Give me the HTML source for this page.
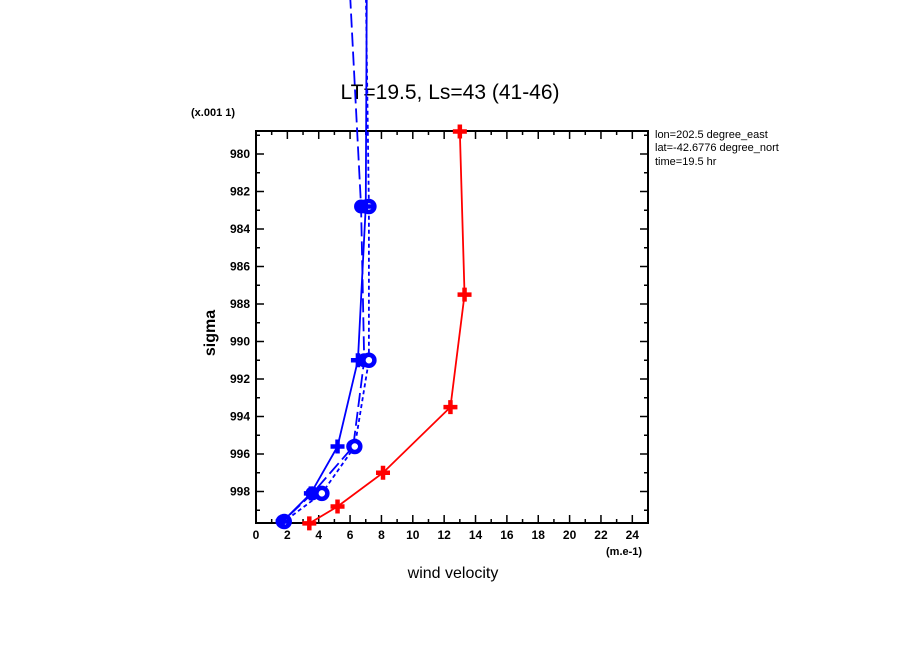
<!DOCTYPE html>
<html><head><meta charset="utf-8"><style>
body{margin:0;background:#fff}
svg{display:block;font-family:"Liberation Sans",sans-serif}
</style></head><body>
<svg id="chart" width="904" height="654" viewBox="0 0 904 654" xmlns="http://www.w3.org/2000/svg">
<defs><clipPath id="infoclip"><rect x="650" y="120" width="129" height="60"/></clipPath></defs>
<rect width="904" height="654" fill="#fff"/>
<text x="450" y="99" font-size="21" text-anchor="middle">LT=19.5, Ls=43 (41-46)</text>
<text x="191" y="116" font-size="11" font-weight="bold">(x.001 1)</text>
<text x="606" y="555" font-size="11" font-weight="bold">(m.e-1)</text>
<text x="453" y="578" font-size="16" text-anchor="middle">wind velocity</text>
<text transform="translate(215,333) rotate(-90)" font-size="16" font-weight="bold" text-anchor="middle">sigma</text>
<g font-size="11" clip-path="url(#infoclip)">
<text x="655" y="138">lon=202.5 degree_east</text>
<text x="655" y="151">lat=-42.6776 degree_north</text>
<text x="655" y="165">time=19.5 hr</text>
</g>
<g id="axes"></g>
<g id="series"></g>
</svg>
<script>
const xTicks=[0,2,4,6,8,10,12,14,16,18,20,22,24];
const yTicks=[980,982,984,986,988,990,992,994,996,998];
const redSigma=[978.8,987.5,993.5,997.0,998.8,999.7];
const redU=[13.0,13.3,12.4,8.1,5.2,3.4];
const blueASigma=[965,982.8,991.0,995.6,998.1,999.6];
const blueAU=[7.1,7.0,6.5,5.2,3.5,1.7];
const blueBSigma=[971.5,982.8,991.0,995.6,998.1,999.6];
const blueBU=[6.0,6.7,6.9,6.2,3.6,1.7];
const blueCSigma=[965,982.8,991.0,995.6,998.1,999.6];
const blueCU=[6.9,7.2,7.2,6.3,4.2,1.8];

const X0=256,X1=648,Y0=131,Y1=523;
const xs=u=>X0+u*(X1-X0)/25;
const ys=s=>341.5+(s-990)*18.75;
const NS="http://www.w3.org/2000/svg";
function mk(tag,attrs,parent){const e=document.createElementNS(NS,tag);for(const k in attrs)e.setAttribute(k,attrs[k]);parent.appendChild(e);return e;}
const ax=document.getElementById('axes');
const frame=mk('rect',{x:X0,y:Y0,width:X1-X0,height:Y1-Y0,fill:'none',stroke:'#000','stroke-width':2},ax);


for(let u=0;u<=25;u++){
  const len=(u%2===0)?8:4;
  mk('line',{x1:xs(u),x2:xs(u),y1:Y1,y2:Y1-len,stroke:'#000','stroke-width':1.5},ax);
  mk('line',{x1:xs(u),x2:xs(u),y1:Y0,y2:Y0+len,stroke:'#000','stroke-width':1.5},ax);
}
xTicks.forEach(u=>{
  const t=mk('text',{x:xs(u),y:Y1+16,'font-size':12,'font-weight':'bold','text-anchor':'middle'},ax);
  t.textContent=u;
  
  
});
for(let s=979;s<=999;s++){
  const len=(s%2===0)?8:4;
  mk('line',{x1:X0,x2:X0+len,y1:ys(s),y2:ys(s),stroke:'#000','stroke-width':1.5},ax);
  mk('line',{x1:X1,x2:X1-len,y1:ys(s),y2:ys(s),stroke:'#000','stroke-width':1.5},ax);
}
yTicks.forEach(s=>{
  const t=mk('text',{x:X0-6,y:ys(s)+4,'font-size':12,'font-weight':'bold','text-anchor':'end'},ax);
  t.textContent=s;
  
  
});
const sg=document.getElementById('series');
function drawSeries(name,U,S,color,dash,marker){
  const pts=U.map((u,i)=>xs(u)+','+ys(S[i])).join(' ');
  const pl=mk('polyline',{points:pts,fill:'none',stroke:color,'stroke-width':1.8,'stroke-dasharray':dash},sg);
  
  
  U.forEach((u,i)=>{
    const cx=xs(u),cy=ys(S[i]);
    if(cy<Y0-2)return;
    let m;
    if(marker==='plus'){
      m=mk('path',{d:`M${cx-7},${cy}H${cx+7}M${cx},${cy-7}V${cy+7}`,stroke:color,'stroke-width':4.5},sg);
    }else if(marker==='dot'){
      m=mk('circle',{cx:cx,cy:cy,r:7,fill:color},sg);
    }else{
      m=mk('circle',{cx:cx,cy:cy,r:5.5,fill:'#fff',stroke:color,'stroke-width':4.5},sg);
    }
    
    
  });
}
drawSeries('blue-long-dash',blueBU,blueBSigma,'#0000ff','14,5','dot');
drawSeries('blue-short-dash',blueCU,blueCSigma,'#0000ff','4,3','ring');
drawSeries('blue-solid',blueAU,blueASigma,'#0000ff','none','plus');
drawSeries('red-solid',redU,redSigma,'#ff0000','none','plus');
</script>
</body></html>
